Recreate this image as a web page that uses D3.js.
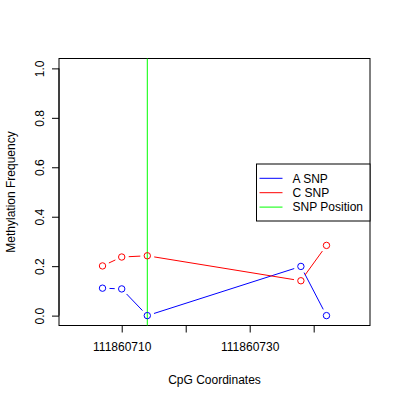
<!DOCTYPE html>
<html>
<head>
<meta charset="utf-8">
<script src="https://cdn.jsdelivr.net/npm/d3@7"></script>
<style>
  body { margin: 0; background: #fff; }
  svg { display: block; font-family: "Liberation Sans", Arial, sans-serif; }
</style>
</head>
<body>
<div id="chart"></div>
<script>
const positions = [111860707, 111860710, 111860714, 111860738, 111860742];
const aSnp = [0.111, 0.108, 0.0, 0.199, 0.0];
const cSnp = [0.201, 0.237, 0.242, 0.141, 0.284];
const snpPosition = 111860714;
const xLimits = [111860702, 111860747];
const yLimits = [0, 1];
const xTicks = [111860710, 111860720, 111860730, 111860740];
const xTickLabels = ["111860710", "", "111860730", ""];
const yTicks = [0, 0.2, 0.4, 0.6, 0.8, 1.0];
const legendNames = ["A SNP", "C SNP", "SNP Position"];
const legendColors = ["#0000ff", "#ff0000", "#00ff00"];

const createPlot = () => {
    const w = 400, h = 400;
    const plot = { left: 59, right: 370, top: 58.5, bottom: 325.5 };
    const svg = d3.select("#chart").append("svg").attr("width", w).attr("height", h);

    // R style 4% expansion of the limits
    const expand = lim => { const d = (lim[1] - lim[0]) * 0.04; return [lim[0] - d, lim[1] + d]; };
    const x = d3.scaleLinear().domain(expand(xLimits)).range([plot.left, plot.right]);
    const y = d3.scaleLinear().domain(expand(yLimits)).range([plot.bottom, plot.top]);

    // Axes
    const xAxis = svg.append("g").attr("transform", `translate(0,${plot.bottom})`)
        .call(d3.axisBottom(x).tickValues(xTicks).tickSize(7).tickPadding(10)
            .tickFormat((d, i) => xTickLabels[i]));
    xAxis.select(".domain").remove();
    xAxis.append("line").attr("x1", x(xTicks[0])).attr("x2", x(xTicks[xTicks.length - 1]))
        .attr("stroke", "#000");

    const yAxis = svg.append("g").attr("transform", `translate(${plot.left},0)`)
        .call(d3.axisLeft(y).tickValues(yTicks).tickSize(7).tickFormat(d3.format(".1f")));
    yAxis.select(".domain").remove();
    yAxis.append("line").attr("y1", y(yTicks[0])).attr("y2", y(yTicks[yTicks.length - 1]))
        .attr("stroke", "#000");
    yAxis.selectAll(".tick text")
        .attr("x", 0).attr("dy", null)
        .attr("text-anchor", "middle")
        .attr("transform", "translate(-19,0) rotate(-90)")
        .attr("dominant-baseline", "central");

    [xAxis, yAxis].forEach(g => g.selectAll("text").attr("font-size", 12).attr("fill", "#000")
        .attr("font-family", "Liberation Sans, Arial, sans-serif"));

    // Box
    svg.append("rect").attr("x", plot.left).attr("y", plot.top)
        .attr("width", plot.right - plot.left).attr("height", plot.bottom - plot.top)
        .attr("fill", "none").attr("stroke", "#000");

    // SNP position line
    svg.append("line").attr("x1", x(snpPosition)).attr("x2", x(snpPosition))
        .attr("y1", plot.top).attr("y2", plot.bottom)
        .attr("stroke", legendColors[2]);

    // type "b": points plus lines with gaps
    const gap = 7;
    const drawSeries = (vals, color) => {
        const pts = positions.map((p, i) => [x(p), y(vals[i])]);
        const segs = d3.pairs(pts).map(([a, b]) => {
            const dx = b[0] - a[0], dy = b[1] - a[1], len = Math.hypot(dx, dy);
            if (len <= 2 * gap) return null;
            const ux = dx / len, uy = dy / len;
            return [a[0] + ux * gap, a[1] + uy * gap, b[0] - ux * gap, b[1] - uy * gap];
        }).filter(s => s);
        svg.append("g").selectAll("line").data(segs).join("line")
            .attr("x1", d => d[0]).attr("y1", d => d[1]).attr("x2", d => d[2]).attr("y2", d => d[3])
            .attr("stroke", color);
        svg.append("g").selectAll("circle").data(pts).join("circle")
            .attr("cx", d => d[0]).attr("cy", d => d[1]).attr("r", 3.2)
            .attr("fill", "none").attr("stroke", color);
    };
    drawSeries(aSnp, legendColors[0]);
    drawSeries(cSnp, legendColors[1]);

    // Axis titles
    svg.append("text").attr("x", (plot.left + plot.right) / 2).attr("y", 384)
        .attr("text-anchor", "middle").attr("font-size", 12).text("CpG Coordinates");
    svg.append("text").attr("transform", `translate(15,${(plot.top + plot.bottom) / 2}) rotate(-90)`)
        .attr("text-anchor", "middle").attr("font-size", 12).text("Methylation Frequency");

    // Legend
    const lg = svg.append("g").attr("transform", "translate(256.5,164)");
    lg.append("rect").attr("width", plot.right - 256.5).attr("height", 57)
        .attr("fill", "#fff").attr("stroke", "#000");
    const items = lg.selectAll("g").data(legendNames).join("g")
        .attr("transform", (d, i) => `translate(0,${14.3 + i * 14.4})`);
    items.append("line").attr("x1", 3).attr("x2", 26).attr("stroke", (d, i) => legendColors[i]);
    items.append("text").attr("x", 36).attr("dy", "0.35em").attr("font-size", 12).text(d => d);
};
createPlot();
</script>
</body>
</html>
